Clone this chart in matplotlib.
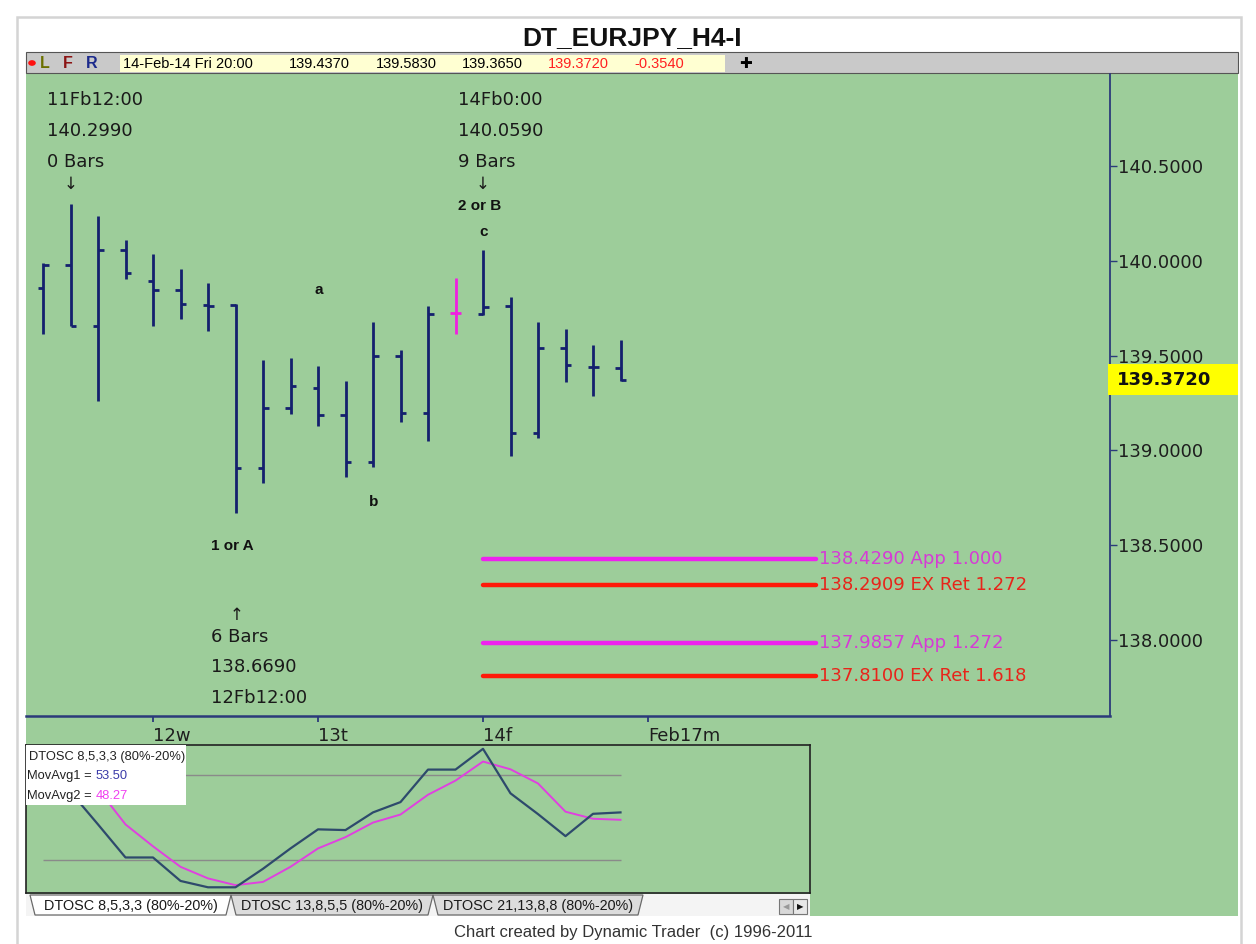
import matplotlib
matplotlib.use("Agg")
import matplotlib.pyplot as plt
from matplotlib.patches import Rectangle, Polygon, Circle
import matplotlib.transforms as mtransforms
import numpy as np

# ---------------- data ----------------
opens  = [139.855, 139.978, 139.658, 140.059, 139.896, 139.846, 139.769, 139.767,
          138.906, 139.222, 139.328, 139.187, 138.937, 139.496, 139.198, 139.723,
          139.720, 139.760, 139.090, 139.539, 139.440, 139.437]
highs  = [139.989, 140.299, 140.235, 140.112, 140.038, 139.957, 139.883, 139.772,
          139.479, 139.486, 139.444, 139.365, 139.679, 139.532, 139.764, 139.908,
          140.059, 139.811, 139.679, 139.641, 139.558, 139.583]
lows   = [139.614, 139.658, 139.263, 139.904, 139.655, 139.693, 139.632, 138.669,
          138.828, 139.192, 139.127, 138.858, 138.911, 139.152, 139.052, 139.614,
          139.714, 138.973, 139.064, 139.363, 139.289, 139.365]
closes = [139.980, 139.658, 140.059, 139.936, 139.846, 139.772, 139.764, 138.906,
          139.222, 139.342, 139.187, 138.937, 139.496, 139.198, 139.720, 139.723,
          139.757, 139.090, 139.539, 139.451, 139.440, 139.372]
highlight_bar = 15

osc_movavg1 = [80, 68, 45, 21.6, 21.6, 5, 0.5, 0.5, 13.6, 28, 41.5, 41,
               53.5, 60.8, 83.8, 83.8, 98.5, 67, 52.3, 36.7, 52.5, 53.50]
osc_movavg2 = [82, 78, 70, 45, 29.5, 15, 6.8, 2, 4.3, 15, 28, 36,
               46.3, 52, 66, 76, 89.5, 84, 74, 54, 49, 48.27]
osc_levels = [80, 20]

day_tick_bars = [4, 10, 16, 22]
day_tick_labels = ["12w", "13t", "14f", "Feb17m"]

price_ticks = [138.0, 138.5, 139.0, 139.5, 140.0, 140.5]
last_price = 139.3720

proj_start_bar = 16
proj_end_bar = 28.1
proj_levels = [138.4290, 138.2909, 137.9857, 137.8100]
proj_labels = ["138.4290 App 1.000", "138.2909 EX Ret 1.272",
               "137.9857 App 1.272", "137.8100 EX Ret 1.618"]
proj_colors = ["#ee22ee", "#ff1a0a", "#ee22ee", "#ff1a0a"]
proj_text_colors = ["#d63ad6", "#e8241a", "#d63ad6", "#e8241a"]

header_fields = ["14-Feb-14 Fri 20:00", "139.4370", "139.5830", "139.3650", "139.3720", "-0.3540"]
header_colors = ["black", "black", "black", "black", "#ff2020", "#ff2020"]
header_x = [123, 289, 376, 462, 548, 634]

tab_labels = ["DTOSC 8,5,3,3 (80%-20%)", "DTOSC 13,8,5,5 (80%-20%)", "DTOSC 21,13,8,8 (80%-20%)"]

# ---------------- layout helpers ----------------
W, H = 1256, 944
fig = plt.figure(figsize=(W / 100, H / 100), dpi=100)
fig.patch.set_facecolor("white")

def frect(x0, y0, x1, y1, **kw):
    r = Rectangle((x0 / W, 1 - y1 / H), (x1 - x0) / W, (y1 - y0) / H,
                  transform=fig.transFigure, **kw)
    fig.add_artist(r)
    return r

def ftext(x, y, s, **kw):
    return fig.text(x / W, 1 - y / H, s, **kw)

GREEN = "#9dcd9a"
NAVY = "#14206e"
UI = ["Liberation Sans"]
HAND = ["DejaVu Sans"]

# window frame and backgrounds
frect(17, 17, 1241, 960, facecolor="white", edgecolor="#d4d4d4", lw=1.8, zorder=-20)
frect(26, 73, 1238, 916, facecolor=GREEN, edgecolor="none", zorder=-10)
frect(26, 52, 1238, 73, facecolor="#c9c9c9", edgecolor="#555555", lw=0.8, zorder=-9)
frect(120, 55, 725, 72, facecolor="#ffffd2", edgecolor="none", zorder=-8)
frect(26, 894, 810, 916, facecolor="#f4f4f4", edgecolor="none", zorder=-8)

# title and header
ftext(632, 38, "DT_EURJPY_H4-I", ha="center", va="center", fontsize=19,
      fontweight="bold", family=UI, color="#111111")
fig.add_artist(Circle((32 / W, 1 - 63 / H), 3.8 / W, transform=fig.transFigure,
                      facecolor="#ff1010", edgecolor="none"))
ftext(40, 63, "L", ha="left", va="center", fontsize=11.5, fontweight="bold", color="#6b7000", family=UI)
ftext(63, 63, "F", ha="left", va="center", fontsize=11.5, fontweight="bold", color="#8b1414", family=UI)
ftext(86, 63, "R", ha="left", va="center", fontsize=11.5, fontweight="bold", color="#1c2a8c", family=UI)
for s, c, x in zip(header_fields, header_colors, header_x):
    ftext(x, 64, s, ha="left", va="center", fontsize=10.5, color=c, family=UI)
ftext(745, 63, "\u271a", ha="center", va="center", fontsize=11, color="black",
      family=["DejaVu Sans"])

# ---------------- price axes ----------------
BAR_PX0, BAR_DX = 43.0, 27.5
def px_to_bar(px):
    return (px - BAR_PX0) / BAR_DX

P_REF_Y, P_REF, P_SCALE = 166.0, 140.5, 189.6
def py_to_price(py):
    return P_REF - (py - P_REF_Y) / P_SCALE

ax = fig.add_axes([26 / W, 1 - 716 / H, (1110 - 26) / W, (716 - 74) / H])
ax.set_facecolor("none")
ax.set_xlim(px_to_bar(26), px_to_bar(1110))
ax.set_ylim(py_to_price(716), py_to_price(74))
for s in ["left", "top"]:
    ax.spines[s].set_visible(False)
ax.spines["right"].set_color("#2b3a7a")
ax.spines["right"].set_linewidth(1.3)
ax.spines["bottom"].set_color("#2b3a7a")
ax.spines["bottom"].set_linewidth(1.8)

x = np.arange(len(opens))
tick_len = 0.2
for i in x:
    col = "#f020e0" if i == highlight_bar else NAVY
    ax.vlines(i, lows[i], highs[i], color=col, lw=2.0, zorder=3)
    ax.hlines(opens[i], i - tick_len, i, color=col, lw=2.0, zorder=3)
    ax.hlines(closes[i], i, i + tick_len, color=col, lw=2.0, zorder=3)

# projection lines
for lvl, lab, c, tc in zip(proj_levels, proj_labels, proj_colors, proj_text_colors):
    ax.hlines(lvl, proj_start_bar, proj_end_bar, color=c, lw=3.2, zorder=3,
              capstyle="round")
    ax.text(proj_end_bar + 0.12, lvl, lab, color=tc, fontsize=13, va="center",
            ha="left", family=HAND, zorder=4)

# y axis on right
ax.yaxis.tick_right()
ax.set_yticks(price_ticks)
ax.set_yticklabels([f"{p:.4f}" for p in price_ticks], family=HAND, fontsize=13,
                   color="#1e1e1e")
ax.tick_params(axis="y", direction="out", length=5, width=1.0, color="#2b3a7a", pad=1)

# x axis day ticks
ax.set_xticks(day_tick_bars)
ax.set_xticklabels(day_tick_labels, family=HAND, fontsize=13, color="#1e1e1e")
for t in ax.get_xticklabels():
    t.set_ha("left")
ax.tick_params(axis="x", direction="out", length=4, width=1.3, color="#2b3a7a", pad=4)

# last price marker
trans = mtransforms.blended_transform_factory(fig.transFigure, ax.transData)
mh = 31 / P_SCALE
ax.add_patch(Rectangle((1108 / W, last_price - mh / 2), 130 / W, mh, transform=trans,
                       facecolor="#ffff00", edgecolor="none", clip_on=False, zorder=5))
ax.text(1117 / W, last_price, f"{last_price:.4f}", transform=trans, fontsize=13,
        fontweight="bold", family=HAND, va="center", ha="left", color="#111111",
        clip_on=False, zorder=6)

# annotations
def ann(bar_px, price_py, s, **kw):
    ax.text(px_to_bar(bar_px), py_to_price(price_py), s, **kw)

hand_kw = dict(family=HAND, fontsize=13, color="#1a1a1a", va="center", ha="left")
bold_kw = dict(family=UI, fontsize=11, fontweight="bold", color="#111111", va="center", ha="left")

ann(47, 100, "11Fb12:00", **hand_kw)
ann(47, 131, "140.2990", **hand_kw)
ann(47, 162, "0 Bars", **hand_kw)
ann(71, 184, "\u2193", **{**hand_kw, "ha": "center", "fontsize": 12})

ann(458, 100, "14Fb0:00", **hand_kw)
ann(458, 131, "140.0590", **hand_kw)
ann(458, 162, "9 Bars", **hand_kw)
ann(483, 184, "\u2193", **{**hand_kw, "ha": "center", "fontsize": 12})
ann(458, 206, "2 or B", **bold_kw)
ann(484, 232, "c", **{**bold_kw, "ha": "center"})
ann(319, 290, "a", **{**bold_kw, "ha": "center"})
ann(374, 502, "b", **{**bold_kw, "ha": "center"})

ann(211, 546, "1 or A", **bold_kw)
ann(237, 615, "\u2191", **{**hand_kw, "ha": "center", "fontsize": 12})
ann(211, 637, "6 Bars", **hand_kw)
ann(211, 667, "138.6690", **hand_kw)
ann(211, 698, "12Fb12:00", **hand_kw)

# ---------------- oscillator axes ----------------
O_Y0, O_SCALE = 888.0, 1.413
ax2 = fig.add_axes([26 / W, 1 - 893 / H, (810 - 26) / W, (893 - 745) / H])
ax2.set_facecolor("none")
ax2.set_xlim(px_to_bar(26), px_to_bar(810))
ax2.set_ylim(-(893 - O_Y0) / O_SCALE, (O_Y0 - 745) / O_SCALE)
ax2.set_xticks([])
ax2.set_yticks([])
for s in ax2.spines.values():
    s.set_color("#222222")
    s.set_linewidth(1.2)
for lvl in osc_levels:
    ax2.hlines(lvl, 0, len(opens) - 1, color="#8a8a8a", lw=1.0, zorder=1)
ax2.plot(x, osc_movavg2, color="#e040e0", lw=1.4, zorder=2)
ax2.plot(x, osc_movavg1, color="#2e4a6c", lw=1.6, zorder=3)

ax2.add_patch(Rectangle((0, (893 - 805) / 148), 160 / 784, 1 - (893 - 805) / 148,
                        transform=ax2.transAxes, facecolor="white", edgecolor="none",
                        zorder=5))
def otext(px, py, s, **kw):
    ax2.text((px - 26) / 784, (893 - py) / 148, s, transform=ax2.transAxes,
             va="center", ha="left", family=UI, fontsize=9.3, zorder=6, **kw)
otext(29, 757, "DTOSC 8,5,3,3 (80%-20%)", color="#222222")
otext(27, 776, "MovAvg1 =", color="#222222")
otext(96, 776, f"{osc_movavg1[-1]:.2f}", color="#3a3aa8")
otext(27, 796, "MovAvg2 =", color="#222222")
otext(96, 796, f"{osc_movavg2[-1]:.2f}", color="#f040f0")

# ---------------- tabs ----------------
tab_x = [(30, 231), (231, 433), (433, 643)]
for k, ((a, b), lab) in enumerate(zip(tab_x, tab_labels)):
    fc = "white" if k == 0 else "#dcdcdc"
    poly = Polygon([(a / W, 1 - 895 / H), (a / W + 5 / W, 1 - 915 / H),
                    (b / W - 5 / W, 1 - 915 / H), (b / W, 1 - 895 / H)],
                   closed=True, transform=fig.transFigure, facecolor=fc,
                   edgecolor="#6a6a6a", lw=0.9, zorder=-7 + (1 if k == 0 else 0))
    fig.add_artist(poly)
    ftext((a + b) / 2, 906, lab, ha="center", va="center", fontsize=10.4,
          family=UI, color="#1a1a1a")
frect(779, 899, 793, 914, facecolor="#d8d8d8", edgecolor="#777777", lw=0.8, zorder=-6)
frect(793, 899, 807, 914, facecolor="#e8e8e8", edgecolor="#777777", lw=0.8, zorder=-6)
ftext(786, 906.5, "\u25c0", ha="center", va="center", fontsize=6, color="#999999")
ftext(800, 906.5, "\u25b6", ha="center", va="center", fontsize=6, color="#111111")

ftext(454, 932, "Chart created by Dynamic Trader  (c) 1996-2011", ha="left",
      va="center", fontsize=12, family=UI, color="#333333")

fig.savefig("out.png", dpi=100)
